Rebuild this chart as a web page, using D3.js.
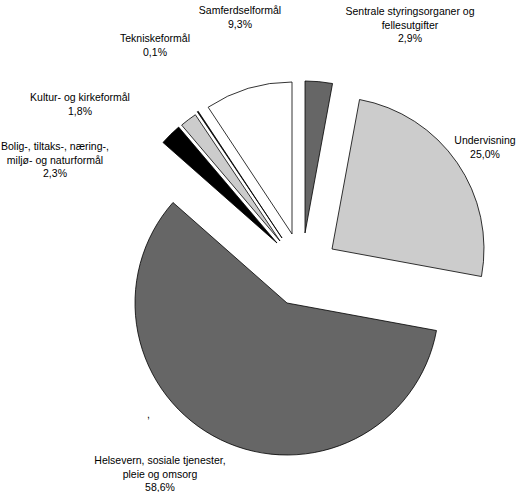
<!DOCTYPE html>
<html>
<head>
<meta charset="utf-8">
<script src="https://cdn.jsdelivr.net/npm/d3@7"></script>
<style>
body { margin: 0; background: #fff; }
text { font-family: "Liberation Sans", Arial, sans-serif; font-size: 10.5px; fill: #000; }
</style>
</head>
<body>
<div class="pie"></div>
<script>
var categories = ["Sentrale styringsorganer og fellesutgifter", "Undervisning",
  "Helsevern, sosiale tjenester, pleie og omsorg", "Bolig-, tiltaks-, næring-, miljø- og naturformål",
  "Kultur- og kirkeformål", "Tekniskeformål", "Samferdselformål"];
var values = [2.9, 25.0, 58.6, 2.3, 1.8, 0.1, 9.3];
var labelLines = [
  ["Sentrale styringsorganer og", "fellesutgifter", "2,9%"],
  ["Undervisning", "25,0%"],
  ["Helsevern, sosiale tjenester,", "pleie og omsorg", "58,6%"],
  ["Bolig-, tiltaks-, næring-,", "miljø- og naturformål", "2,3%"],
  ["Kultur- og kirkeformål", "1,8%"],
  ["Tekniskeformål", "0,1%"],
  ["Samferdselformål", "9,3%"]
];

// styling / layout
var colors = ["#666666", "#cccccc", "#666666", "#000000", "#cccccc", "#000000", "#ffffff"];
var explode = [[18, -70], [45, -54], [0, 0], [-10, -60], [-7, -62], [-5, -65], [5, -69]];
var labelPos = [[410, 11], [485, 140], [160, 460], [55, 146], [80, 97], [155, 38], [240, 10]];

var svg = d3.select(".pie").append("svg").attr("width", 532).attr("height", 492);
var g = svg.append("g").attr("transform", "translate(287,303)");

var pie = d3.pie().sort(null).value(function(d) { return d; });
var arc = d3.arc().innerRadius(0).outerRadius(152);

g.selectAll("path")
  .data(pie(values))
  .enter().append("path")
    .attr("d", arc)
    .attr("transform", function(d, i) { return "translate(" + explode[i] + ")"; })
    .attr("fill", function(d, i) { return colors[i]; })
    .attr("stroke", "#000")
    .attr("stroke-width", 0.8)
    .attr("stroke-linejoin", "miter");

labelLines.forEach(function(lines, i) {
  var t = svg.append("text")
    .attr("text-anchor", "middle")
    .attr("x", labelPos[i][0])
    .attr("y", labelPos[i][1] + 4);
  lines.forEach(function(l, j) {
    t.append("tspan").attr("x", labelPos[i][0]).attr("dy", j ? 13.5 : 0).text(l);
  });
});

svg.append("text").attr("x", 147).attr("y", 418).text(",");
</script>
</body>
</html>
